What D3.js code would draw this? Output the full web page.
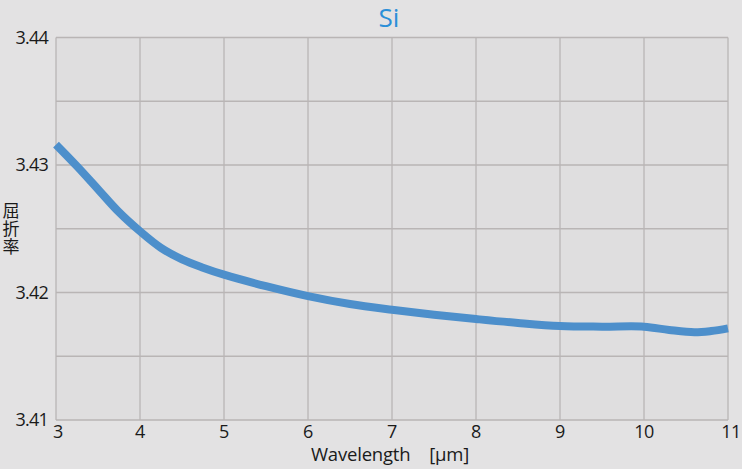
<!DOCTYPE html>
<html>
<head>
<meta charset="utf-8">
<script src="https://cdn.jsdelivr.net/npm/d3@7"></script>
<style>
  body { margin: 0; background: #e3e2e3; }
  svg { display: block; }
  text { font-family: "Open Sans", "Noto Sans", sans-serif; fill: #1a1a1a; }
</style>
</head>
<body>
<div id="chart"></div>
<script>
// wavelength [um] and refractive index
const wavelength = [3, 3.25, 3.5, 3.75, 4, 4.25, 4.5, 4.75, 5, 5.5, 6, 6.5, 7, 7.5, 8, 8.5, 9, 9.5, 10, 10.3, 10.6, 10.8, 11];
const index = [3.4316, 3.4299, 3.4281, 3.4263, 3.4248, 3.4235, 3.4226, 3.42195, 3.4214, 3.4205, 3.41972,
    3.4191, 3.41865, 3.41826, 3.41792, 3.41761, 3.41737, 3.41732, 3.41732, 3.41706, 3.41688, 3.41698, 3.41719];
const xTicks = [3, 4, 5, 6, 7, 8, 9, 10, 11];
const yTicks = [3.41, 3.415, 3.42, 3.425, 3.43, 3.435, 3.44];
const yLabels = [3.41, 3.42, 3.43, 3.44];

const width = 742;
const height = 469;
const margin = { top: 37.5, right: 14, bottom: 49, left: 56 };

const svg = d3.select('#chart')
    .append('svg')
    .attr('width', width)
    .attr('height', height);

const x = d3.scaleLinear()
    .domain([3, 11])
    .range([margin.left, width - margin.right]);

const y = d3.scaleLinear()
    .domain([3.41, 3.44])
    .range([height - margin.bottom, margin.top]);

// plot background
svg.append('rect')
    .attr('x', x(3))
    .attr('y', y(3.44))
    .attr('width', x(11) - x(3))
    .attr('height', y(3.41) - y(3.44))
    .attr('fill', '#dfdedf');

// grid
svg.append('g')
    .selectAll('line')
    .data(xTicks)
    .enter()
    .append('line')
    .attr('x1', d => x(d))
    .attr('x2', d => x(d))
    .attr('y1', y(3.44))
    .attr('y2', y(3.41))
    .attr('stroke', '#b9b5b5')
    .attr('stroke-width', 1.3);

svg.append('g')
    .selectAll('line')
    .data(yTicks)
    .enter()
    .append('line')
    .attr('x1', x(3))
    .attr('x2', x(11))
    .attr('y1', d => y(d))
    .attr('y2', d => y(d))
    .attr('stroke', '#b9b5b5')
    .attr('stroke-width', 1.3);

// the curve
const line = d3.line()
    .x(d => x(d[0]))
    .y(d => y(d[1]))
    .curve(d3.curveCatmullRom.alpha(0.5));

svg.append('path')
    .datum(wavelength.map((w, i) => [w, index[i]]))
    .attr('d', line)
    .attr('fill', 'none')
    .attr('stroke', '#4d8fcb')
    .attr('stroke-width', 8)
    .attr('stroke-linecap', 'butt');

// tick labels
svg.append('g')
    .selectAll('text')
    .data(yLabels)
    .enter()
    .append('text')
    .attr('x', 48)
    .attr('y', d => y(d))
    .attr('dy', '0.35em')
    .attr('text-anchor', 'end')
    .attr('font-size', 18)
    .attr('letter-spacing', -0.8)
    .text(d => d.toFixed(2));

svg.append('g')
    .selectAll('text')
    .data(xTicks)
    .enter()
    .append('text')
    .attr('x', d => x(d) + (d === 3 ? 2 : d === 11 ? 3 : 0))
    .attr('y', 438)
    .attr('text-anchor', 'middle')
    .attr('font-size', 18)
    .attr('letter-spacing', -0.5)
    .text(d => d);

// axis titles
svg.append('text')
    .attr('x', 390)
    .attr('y', 461)
    .attr('text-anchor', 'middle')
    .attr('font-size', 18.5)
    .attr('letter-spacing', -0.2)
    .text('Wavelength\u3000[μm]');

// vertical y title
svg.append('text')
    .attr('x', 11)
    .attr('y', 202)
    .attr('font-size', 17)
    .attr('letter-spacing', 1)
    .style('writing-mode', 'vertical-rl')
    .style('font-family', '"Noto Sans CJK JP", sans-serif')
    .text('屈折率');

// title
svg.append('text')
    .attr('x', 389)
    .attr('y', 27)
    .attr('text-anchor', 'middle')
    .attr('font-size', 26)
    .style('fill', '#2b8fd8')
    .text('Si');
</script>
</body>
</html>
